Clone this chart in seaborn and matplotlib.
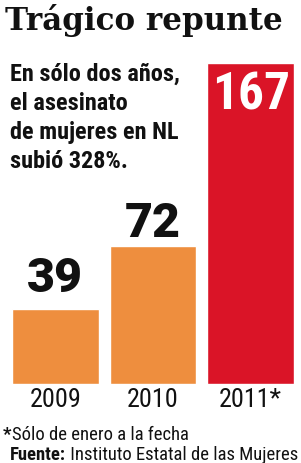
import matplotlib
matplotlib.use("Agg")
import matplotlib.pyplot as plt
import seaborn as sns
from matplotlib import font_manager as fm

years = ["2009", "2010", "2011*"]
values = [39, 72, 167]
colors = ["#EE8E3E", "#EE8E3E", "#DA1427"]

title = "Trágico repunte"
subtitle = ["En sólo dos años,", "el asesinato", "de mujeres en NL", "subió 328%."]
note = ("*", "Sólo de enero a la fecha")
source = ("Fuente:", " Instituto Estatal de las Mujeres")

W, H = 301, 464
INK = "#111111"

# pick a narrow sans if one is around
available = {f.name for f in fm.fontManager.ttflist}
narrow = next((n for n in ["Roboto Condensed", "Liberation Sans Narrow", "Roboto"] if n in available), "DejaVu Sans")
NARROW = [narrow, "DejaVu Sans"]
HEAVY = ["Roboto", "DejaVu Sans"] if "Roboto" in available else ["DejaVu Sans"]

sns.set_style("white")

fig = plt.figure(figsize=(W / 100, H / 100), dpi=100)
fig.patch.set_facecolor("white")
ax = fig.add_axes([6.5 / W, (H - 385) / H, 293 / W, 321 / H])

df = {"year": years, "value": values}
sns.barplot(data=df, x="year", y="value", hue="year", palette=colors,
            width=0.89, saturation=1, legend=False, ax=ax)
ax.set_xlim(-0.5, 2.5)
ax.set_ylim(0, 167)
ax.set_xlabel("")
ax.set_ylabel("")
ax.set_yticks([])
sns.despine(ax=ax, left=True, bottom=True)
ax.tick_params(axis="x", length=0, pad=2, colors=INK)
for lab in ax.get_xticklabels():
    lab.set_family(NARROW)
    lab.set_stretch("condensed")
    lab.set_fontsize(17)

fig.canvas.draw()
renderer = fig.canvas.get_renderer()


def fit(texts, width_px):
    # scale a run of texts so that together they are width_px wide
    w = sum(t.get_window_extent(renderer).width for t in texts)
    for t in texts:
        t.set_fontsize(t.get_fontsize() * width_px / w)


def fy(y_px):
    return 1 - y_px / H


# year labels: "2009" is about 52 px wide in the original
ticks = ax.get_xticklabels()
fit([ticks[0]], 52)
for lab in ticks:
    lab.set_fontsize(ticks[0].get_fontsize())

# title
t = fig.text(5 / W, fy(30), title, family=["DejaVu Serif"], weight="bold",
             fontsize=24, va="baseline", ha="left", color=INK)
fit([t], 278)

# subtitle lines
sub = []
for i, line in enumerate(subtitle):
    s = fig.text(10 / W, fy(81 + i * 29), line, family=NARROW, stretch="condensed",
                 weight="bold", fontsize=20, va="baseline", ha="left", color=INK)
    sub.append(s)
fit([sub[2]], 168)
for s in sub:
    s.set_fontsize(sub[2].get_fontsize())

# value labels
pads = [18, 10]
for i, v in enumerate(values[:2]):
    a = ax.annotate(str(v), xy=(i, v), xytext=(0, pads[i]), textcoords="offset pixels",
                    ha="center", va="baseline", family=HEAVY, weight="black",
                    fontsize=38, color=INK)
    fit([a], 56)

big = ax.annotate(str(values[2]), xy=(2, values[2]), xytext=(0, -86), textcoords="offset pixels",
                  ha="center", va="baseline", family=NARROW, stretch="condensed",
                  weight="bold", fontsize=50, color="white")
fit([big], 78)
cap = 0.72 * big.get_fontsize() * 100 / 72
big.xyann = (0, -(9 + cap))

# footnotes, both lines at the same size
n1 = fig.text(3 / W, fy(440), note[0], family=NARROW, stretch="condensed", weight="bold",
              fontsize=11, va="baseline", ha="left", color=INK)
n2 = ax.annotate(note[1], xy=(1, 0), xycoords=n1, va="bottom", ha="left",
                 family=NARROW, stretch="condensed", fontsize=11, color=INK)
s1 = fig.text(10 / W, fy(460), source[0], family=NARROW, stretch="condensed", weight="bold",
              fontsize=11, va="baseline", ha="left", color=INK)
s2 = ax.annotate(source[1], xy=(1, 0), xycoords=s1, va="bottom", ha="left",
                 family=NARROW, stretch="condensed", fontsize=11, color=INK)
fit([s1, s2], 287)
for n in (n1, n2):
    n.set_fontsize(s1.get_fontsize())

fig.savefig("out.png", dpi=100, facecolor="white")
